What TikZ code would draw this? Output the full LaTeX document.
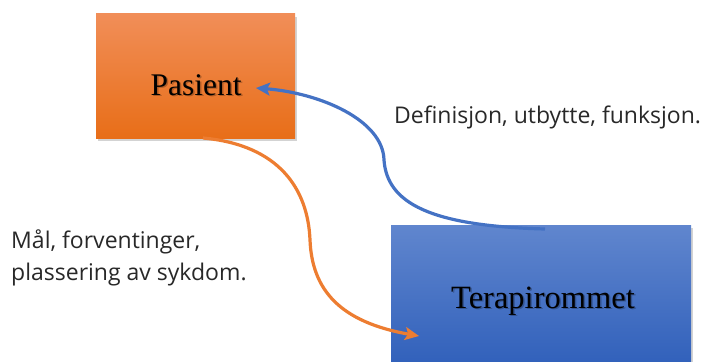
\documentclass[tikz,border=0pt]{standalone}
\usepackage{fontspec}
\setmainfont{Liberation Serif}
\newfontfamily\labelfont{Open Sans}
\usetikzlibrary{arrows.meta,shadows}
\definecolor{orangeTop}{RGB}{241,142,88}
\definecolor{orangeBot}{RGB}{232,110,24}
\definecolor{blueTop}{RGB}{96,134,206}
\definecolor{blueBot}{RGB}{47,95,186}
\definecolor{blueLine}{RGB}{68,114,196}
\definecolor{orangeLine}{RGB}{237,125,49}
\definecolor{labelGray}{RGB}{40,40,40}
\tikzset{
  boxnode/.style={minimum width=199pt, minimum height=124pt, inner sep=0pt,
    drop shadow={shadow xshift=2pt, shadow yshift=-3pt, opacity=0.35}},
  boxtext/.style={font=\fontsize{31.5}{36}\selectfont, text=black},
  boxtextshadow/.style={font=\fontsize{31.5}{36}\selectfont, text=black, opacity=0.25},
  bigtext/.style={font=\fontsize{32.5}{36}\selectfont},
  flowlabel/.style={font=\labelfont\fontsize{23}{32}\selectfont, text=labelGray, inner sep=0pt, anchor=base west},
  conn/.style={line width=3.2pt, -{Stealth[length=14pt,width=13pt,inset=3pt]}},
}
\begin{document}
\begin{tikzpicture}[x=1pt,y=-1pt]
\useasboundingbox (0,0) rectangle (703,361);
\clip (0,0) rectangle (703,361);
\node[boxnode, top color=orangeTop, bottom color=orangeBot] (P) at (195.5,76) {};
\node[boxnode, minimum width=300pt, minimum height=146pt, top color=blueTop, bottom color=blueBot] (T) at (541,298) {};
\node[boxtextshadow] (Ps) at (197.5,86) {Pasient};
\node[boxtext] (Pt) at (196,85) {Pasient};
\node[boxtextshadow, bigtext] (Ts) at (544.5,302) {Terapirommet};
\node[boxtext, bigtext] (Tt) at (543,301) {Terapirommet};
\node[flowlabel] (L1) at (394,123) {Definisjon, utbytte, funksjon.};
\node[flowlabel] (L2) at (11,248) {Mål, forventinger,};
\node[flowlabel] (L3) at (11,280) {plassering av sykdom.};
\coordinate (bs) at (545,229);
\coordinate (bm) at (384,160);
\coordinate (be) at (256,88);
\coordinate (os) at (203,138);
\coordinate (om) at (310,240);
\coordinate (oe) at (419,336);
\draw[conn, blueLine] (bs) .. controls (430,226) and (387,203) .. (bm) .. controls (383,120) and (320,93) .. (be);
\draw[conn, orangeLine] (os) .. controls (280,145) and (308,190) .. (om) .. controls (312,290) and (340,322) .. (oe);
\end{tikzpicture}
\end{document}
